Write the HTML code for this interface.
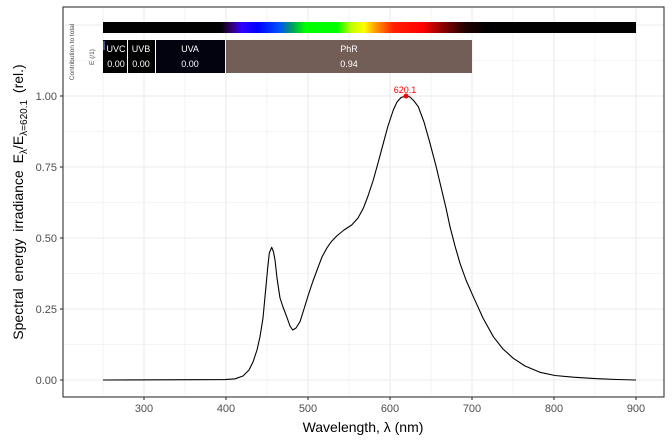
<!DOCTYPE html>
<html><head><meta charset="utf-8"><style>
html,body{margin:0;padding:0;background:#fff;}
svg{display:block;font-family:"Liberation Sans",sans-serif;}
</style></head><body>
<svg width="672" height="447" viewBox="0 0 672 447" xmlns="http://www.w3.org/2000/svg">
<defs>
<linearGradient id="sp" gradientUnits="userSpaceOnUse" x1="103" y1="0" x2="636" y2="0">
<stop offset="0" stop-color="#000"/>
<stop offset="0.22" stop-color="#000"/>
<stop offset="0.24" stop-color="#30006a"/>
<stop offset="0.26" stop-color="#3000ff"/>
<stop offset="0.29" stop-color="#0000ff"/>
<stop offset="0.33" stop-color="#0050ff"/>
<stop offset="0.355" stop-color="#00a060"/>
<stop offset="0.38" stop-color="#00ff00"/>
<stop offset="0.44" stop-color="#00ff00"/>
<stop offset="0.465" stop-color="#c0ff00"/>
<stop offset="0.49" stop-color="#ffff00"/>
<stop offset="0.51" stop-color="#ffa000"/>
<stop offset="0.545" stop-color="#ff2000"/>
<stop offset="0.6" stop-color="#ff0000"/>
<stop offset="0.63" stop-color="#a00000"/>
<stop offset="0.68" stop-color="#200000"/>
<stop offset="0.72" stop-color="#000"/>
<stop offset="1" stop-color="#000"/>
</linearGradient>
</defs>
<rect x="63" y="7" width="601" height="390" fill="#fff"/>
<g stroke="#ebebeb" stroke-width="0.6">
<line x1="63" x2="664" y1="344.5" y2="344.5"/><line x1="63" x2="664" y1="273.5" y2="273.5"/>
<line x1="63" x2="664" y1="202.5" y2="202.5"/><line x1="63" x2="664" y1="131.5" y2="131.5"/>
<line x1="63" x2="664" y1="60.5" y2="60.5"/>
<line y1="7" y2="397" x1="103" x2="103"/><line y1="7" y2="397" x1="185" x2="185"/>
<line y1="7" y2="397" x1="267" x2="267"/><line y1="7" y2="397" x1="349" x2="349"/>
<line y1="7" y2="397" x1="431" x2="431"/><line y1="7" y2="397" x1="513" x2="513"/>
<line y1="7" y2="397" x1="595" x2="595"/>
</g>
<g stroke="#ebebeb" stroke-width="1.1">
<line x1="63" x2="664" y1="380" y2="380"/><line x1="63" x2="664" y1="309" y2="309"/>
<line x1="63" x2="664" y1="238" y2="238"/><line x1="63" x2="664" y1="167" y2="167"/>
<line x1="63" x2="664" y1="96" y2="96"/><line x1="63" x2="664" y1="25" y2="25"/>
<line y1="7" y2="397" x1="144" x2="144"/><line y1="7" y2="397" x1="226" x2="226"/>
<line y1="7" y2="397" x1="308" x2="308"/><line y1="7" y2="397" x1="390" x2="390"/>
<line y1="7" y2="397" x1="472" x2="472"/><line y1="7" y2="397" x1="554" x2="554"/>
<line y1="7" y2="397" x1="636" x2="636"/>
</g>
<rect x="103" y="22" width="533" height="11" fill="url(#sp)"/>
<rect x="103" y="40" width="24" height="33" fill="#000"/>
<rect x="128" y="40" width="27" height="33" fill="#000"/>
<rect x="156" y="40" width="69" height="33" fill="#03020f"/>
<rect x="226" y="40" width="246" height="33" fill="#735d57"/>
<g fill="#fff" font-size="9" text-anchor="middle">
<text x="116" y="52">UVC</text><text x="116" y="67">0.00</text>
<text x="141" y="52">UVB</text><text x="141" y="67">0.00</text>
<text x="190" y="52">UVA</text><text x="190" y="67">0.00</text>
<text x="349" y="52">PhR</text><text x="349" y="67">0.94</text>
</g>
<line x1="104" y1="41" x2="104" y2="50" stroke="#7af" stroke-width="1"/>
<g fill="#4d4d4d" font-size="6.5" text-anchor="middle">
<text transform="translate(74,52) rotate(-90)">Contribution to total</text>
<text transform="translate(94,57) rotate(-90)">E (/1)</text>
</g>
<path fill="none" stroke="#000" stroke-width="1.1" stroke-linejoin="round" d="M103,380 L225,379.6 L235,378.8 L243,376 L249,370 L253,362 L257,350 L260,336.7 L263,318 L265,296.7 L267.5,270 L269.3,253 L271.7,247.3 L273.5,252 L275,260 L277,278 L280,298 L283,307 L286.7,316.7 L290,326 L292.7,330 L296,328 L300,321.7 L304,309 L308.3,295 L313,281 L318.3,266.7 L322,257 L326.7,248.3 L331,242 L336.7,236 L344,230 L351.7,225 L358,218 L363.3,208.3 L368,196 L373.3,180 L378,163 L383.3,143.3 L388,126 L393.3,110 L397,102 L401,97.5 L406,96 L410,97 L414,101 L418.3,106.7 L424,122 L430,143.3 L436,166 L441.7,190 L446,208 L450,226.7 L455,246 L460,263.3 L466,280 L473.3,296.7 L483,318 L493.3,336.7 L503,349 L513.3,358.3 L525,366 L540,372.3 L555,375.5 L573.3,377.2 L595,378.6 L616.7,379.5 L636,380"/>
<circle cx="406" cy="96" r="2.5" fill="#f00"/>
<text x="405" y="93" fill="#f00" font-size="9" text-anchor="middle">620.1</text>
<rect x="63" y="7" width="601" height="390" fill="none" stroke="#333" stroke-width="1.1"/>
<g stroke="#333" stroke-width="1.1">
<line x1="60" x2="63" y1="380" y2="380"/><line x1="60" x2="63" y1="309" y2="309"/>
<line x1="60" x2="63" y1="238" y2="238"/><line x1="60" x2="63" y1="167" y2="167"/>
<line x1="60" x2="63" y1="96" y2="96"/>
<line y1="397" y2="400" x1="144" x2="144"/><line y1="397" y2="400" x1="226" x2="226"/>
<line y1="397" y2="400" x1="308" x2="308"/><line y1="397" y2="400" x1="390" x2="390"/>
<line y1="397" y2="400" x1="472" x2="472"/><line y1="397" y2="400" x1="554" x2="554"/>
<line y1="397" y2="400" x1="636" x2="636"/>
</g>
<g fill="#4d4d4d" font-size="11" text-anchor="end">
<text x="57" y="384">0.00</text><text x="57" y="313">0.25</text>
<text x="57" y="242">0.50</text><text x="57" y="171">0.75</text>
<text x="57" y="100">1.00</text>
</g>
<g fill="#4d4d4d" font-size="11" text-anchor="middle">
<text x="144" y="412">300</text><text x="226" y="412">400</text>
<text x="308" y="412">500</text><text x="390" y="412">600</text>
<text x="472" y="412">700</text><text x="554" y="412">800</text>
<text x="636" y="412">900</text>
</g>
<text x="363" y="432" font-size="14" text-anchor="middle" fill="#000">Wavelength, λ (nm)</text>
<text transform="translate(23,202) rotate(-90)" font-size="14" text-anchor="middle" fill="#000" word-spacing="3">Spectral energy irradiance E<tspan font-size="10" dy="4">λ</tspan><tspan dy="-4">/E</tspan><tspan font-size="10" dy="4">λ=620.1</tspan><tspan dy="-4"> (rel.)</tspan></text>
</svg>
</body></html>
